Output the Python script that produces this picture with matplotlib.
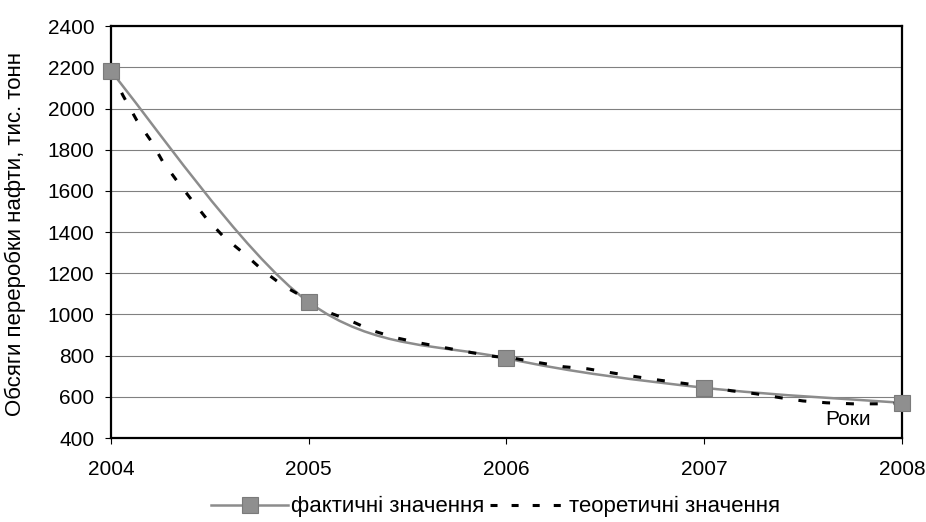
import numpy as np
import matplotlib
matplotlib.use("Agg")
import matplotlib.pyplot as plt
from matplotlib.path import Path
from matplotlib.patches import PathPatch
from matplotlib.lines import Line2D

plt.rcParams['font.family'] = ['Liberation Sans', 'DejaVu Sans']

# фактичні обсяги переробки нафти по роках
years = [2004, 2005, 2006, 2007, 2008]
actual = [2180, 1060, 787, 644, 571]

# теоретична крива (зчитана щільно по осі років)
theor_x = [2004.00, 2004.06, 2004.13, 2004.20, 2004.26, 2004.33, 2004.40, 2004.48,
           2004.57, 2004.68, 2004.77, 2004.87, 2004.98, 2005.09, 2005.21, 2005.32,
           2005.44, 2005.57, 2005.68, 2005.81, 2005.93, 2006.05, 2006.17, 2006.29,
           2006.41, 2006.53, 2006.66, 2006.78, 2006.90, 2007.02, 2007.14, 2007.26,
           2007.39, 2007.50, 2007.62, 2007.75, 2007.87, 2008.00]
theor_y = [2180, 2064, 1943, 1846, 1745, 1653, 1566, 1469,
           1377, 1290, 1212, 1140, 1081, 1014, 970, 922,
           887, 860, 840, 817, 797, 785, 765, 746,
           736, 717, 697, 680, 665, 649, 629, 615,
           595, 580, 571, 566, 566, 568]

yticks = list(range(400, 2401, 200))


def smooth_path(x, y):
    # згладжена лінія як у Excel: кубічні криві Безьє між сусідніми точками
    x = np.asarray(x, float)
    y = np.asarray(y, float)
    n = len(x)
    verts = [(x[0], y[0])]
    codes = [Path.MOVETO]
    for i in range(n - 1):
        p0 = np.array([x[max(i - 1, 0)], y[max(i - 1, 0)]])
        p1 = np.array([x[i], y[i]])
        p2 = np.array([x[i + 1], y[i + 1]])
        p3 = np.array([x[min(i + 2, n - 1)], y[min(i + 2, n - 1)]])
        c1 = p1 + (p2 - p0) / 6.0
        c2 = p2 - (p3 - p1) / 6.0
        verts += [tuple(c1), tuple(c2), tuple(p2)]
        codes += [Path.CURVE4] * 3
    return Path(verts, codes)


fig = plt.figure(figsize=(9.26, 5.22), dpi=100)
ax = fig.add_axes([0.1199, 0.1609, 0.854, 0.789])

ax.set_xlim(2004, 2008)
ax.set_ylim(400, 2400)
ax.set_yticks(yticks)
ax.set_xticks(years)
ax.yaxis.grid(True, color='#808080', linewidth=0.8)
ax.set_axisbelow(True)

for s in ax.spines.values():
    s.set_linewidth(1.6)
    s.set_color('black')

ax.tick_params(axis='both', labelsize=15, colors='black', length=4, width=0.8)
ax.tick_params(axis='x', pad=12)
ax.tick_params(axis='y', pad=8)

gray = '#8c8c8c'
mface = '#8f8f8f'
ax.add_patch(PathPatch(smooth_path(years, actual), fill=False, edgecolor=gray,
                       linewidth=1.8, zorder=3))
ax.plot(theor_x, theor_y, color='black', linewidth=2.2, linestyle=(0, (2.6, 5.2)),
        zorder=4)
ax.plot(years, actual, linestyle='none', marker='s', markersize=11,
        markerfacecolor=mface, markeredgecolor='#7a7a7a', markeredgewidth=0.8,
        zorder=5, clip_on=False)

ax.set_ylabel('Обсяги переробки нафти, тис. тонн', fontsize=16)
ax.yaxis.set_label_coords(-0.108, 0.495)
ax.text(0.932, 0.045, 'Роки', transform=ax.transAxes, fontsize=15,
        ha='center', va='center')

handles = [
    Line2D([], [], color=gray, linewidth=1.8, marker='s', markersize=11,
           markerfacecolor=mface, markeredgecolor='#7a7a7a', markeredgewidth=0.8),
    Line2D([], [], color='black', linewidth=2.2, linestyle=(0, (2.3, 4.6))),
]
fig.legend(handles, ['фактичні значення', 'теоретичні значення'], loc='center left',
           bbox_to_anchor=(0.228, 0.029), ncol=2, frameon=False, fontsize=16,
           handlelength=3.47, handletextpad=0.12, columnspacing=0.25,
           borderpad=0, borderaxespad=0)

fig.savefig('out.png', dpi=100)
